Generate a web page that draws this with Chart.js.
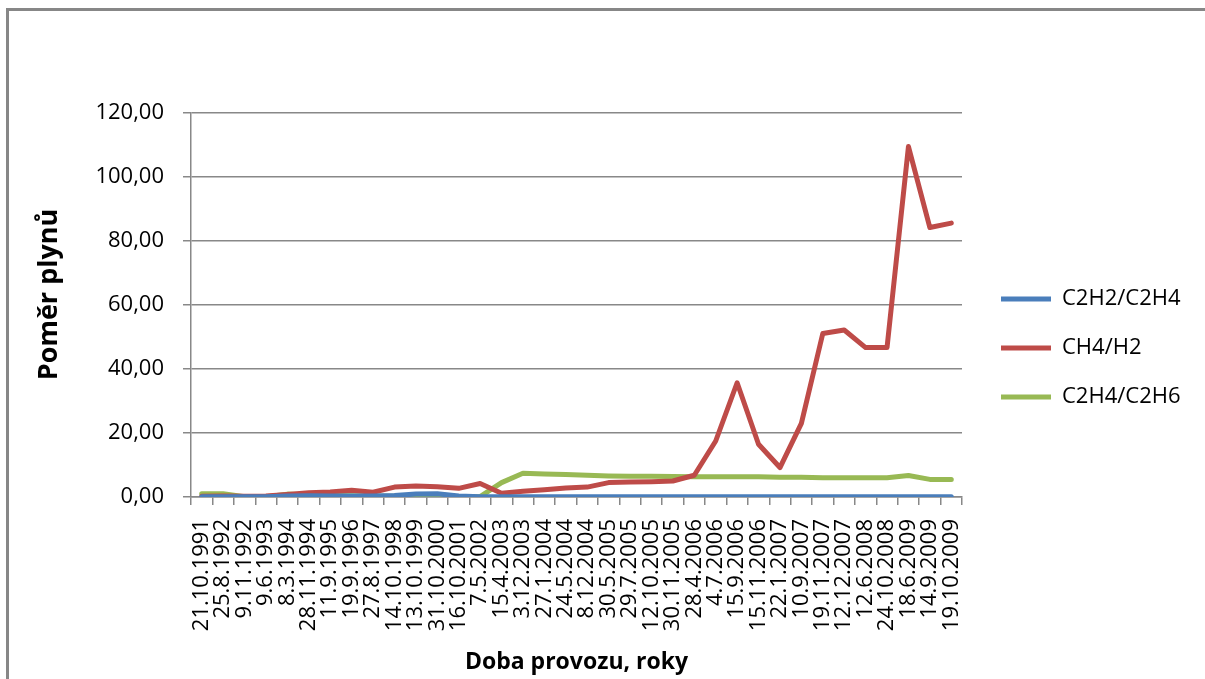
<!DOCTYPE html>
<html><head><meta charset="utf-8">
<script src="https://cdn.jsdelivr.net/npm/chart.js@4.4.0/dist/chart.umd.min.js"></script>
<style>
html,body{margin:0;padding:0;background:#fff;width:1205px;height:679px;overflow:hidden}
#frame{position:absolute;left:6px;top:8px;width:1300px;height:800px;border-left:3px solid #878787;border-top:3px solid #878787;box-sizing:border-box}
#wrap{position:absolute;left:0;top:0;width:1205px;height:679px}
</style></head><body>
<div id="frame"></div>
<div id="wrap"><canvas id="c" width="1205" height="679"></canvas></div>
<script>
const categories = ['21.10.1991','25.8.1992','9.11.1992','9.6.1993','8.3.1994','28.11.1994','11.9.1995','19.9.1996','27.8.1997','14.10.1998','13.10.1999','31.10.2000','16.10.2001','7.5.2002','15.4.2003','3.12.2003','27.1.2004','24.5.2004','8.12.2004','30.5.2005','29.7.2005','12.10.2005','30.11.2005','28.4.2006','4.7.2006','15.9.2006','15.11.2006','22.1.2007','10.9.2007','19.11.2007','12.12.2007','12.6.2008','24.10.2008','18.6.2009','14.9.2009','19.10.2009'];
const seriesNames = ['C2H2/C2H4','CH4/H2','C2H4/C2H6'];
const c2h2_c2h4 = [0.05,0.1,0.05,0.1,0.3,0.4,0.3,0.3,0.3,0.5,0.9,1.0,0.3,0.05,0.1,0.1,0.1,0.1,0.1,0.1,0.1,0.1,0.1,0.1,0.1,0.1,0.1,0.1,0.1,0.1,0.1,0.1,0.1,0.1,0.1,0.1];
const ch4_h2 = [0.2,0.3,0.2,0.3,0.8,1.3,1.6,2.1,1.5,3.1,3.4,3.2,2.7,4.2,1.2,1.8,2.3,2.8,3.1,4.5,4.7,4.8,5.0,6.8,17.5,35.7,16.5,9.2,23.0,51.1,52.2,46.7,46.7,109.5,84.2,85.6];
const c2h4_c2h6 = [1.0,1.0,0.1,0.1,0.9,0.6,0.5,0.4,0.3,0.2,0.3,0.3,0.1,0.1,4.5,7.4,7.2,7.0,6.8,6.6,6.5,6.5,6.4,6.3,6.3,6.3,6.3,6.2,6.2,6.0,6.0,6.0,6.0,6.7,5.5,5.5];
const yTickLabels = ['0,00','20,00','40,00','60,00','80,00','100,00','120,00'];
const colors = ['#4A7EBB','#BE4B48','#98B954'];

const FONT = "'Open Sans', sans-serif";
const GRID = '#888888';
const PLOT_LEFT = 191, PLOT_RIGHT = 962, PLOT_TOP = 113, PLOT_BOTTOM = 497;
const LEGEND_LEFT = 974, LEGEND_DY = -48;

const legendShift = {
  id: 'legendShift',
  afterLayout(chart) {
    const lg = chart.legend;
    const w = lg.right - lg.left;
    lg.left = LEGEND_LEFT; lg.right = LEGEND_LEFT + w;
    lg.top += LEGEND_DY; lg.bottom += LEGEND_DY;
  }
};

function ds(i, data) {
  return {
    label: seriesNames[i], data: data,
    borderColor: colors[i], backgroundColor: colors[i],
    borderWidth: 5, pointRadius: 0, pointHoverRadius: 0, tension: 0,
    borderCapStyle: 'round', borderJoinStyle: 'round', fill: false
  };
}

const chart = new Chart(document.getElementById('c'), {
  type: 'line',
  data: { labels: categories, datasets: [ds(0, c2h2_c2h4), ds(1, ch4_h2), ds(2, c2h4_c2h6)] },
  options: {
    responsive: false, animation: false, devicePixelRatio: 1,
    layout: { padding: { left: 0, right: 20, top: PLOT_TOP, bottom: 0 } },
    plugins: {
      tooltip: { enabled: false },
      legend: {
        position: 'right', align: 'center',
        labels: { usePointStyle: true, pointStyle: 'line', pointStyleWidth: 50, padding: 27,
                  color: '#000', font: { family: FONT, size: 22 } }
      }
    },
    scales: {
      x: {
        type: 'category', offset: true,
        grid: { offset: true, drawOnChartArea: false, drawTicks: true, tickLength: 8, color: GRID, lineWidth: 1.5 },
        border: { color: GRID, width: 1.5 },
        ticks: { autoSkip: false, maxRotation: 90, minRotation: 90, padding: 14, color: '#000', font: { family: FONT, size: 22 } },
        title: { display: true, text: 'Doba provozu, roky', color: '#000', font: { family: FONT, size: 23, weight: 'bold' }, padding: { top: 0, bottom: 3 } },
        afterFit(s) { s.height = 679 - PLOT_BOTTOM; }
      },
      y: {
        min: 0, max: 120,
        grid: { color: GRID, lineWidth: 1.5, tickLength: 8, drawTicks: true },
        border: { color: GRID, width: 1.5 },
        ticks: { stepSize: 20, padding: 19, color: '#000', font: { family: FONT, size: 22 },
                 callback: (v) => yTickLabels[Math.round(v / 20)] },
        title: { display: true, text: '   Poměr plynů', color: '#000', font: { family: FONT, size: 27, weight: 'bold' }, padding: { top: 33, bottom: 0 } },
        afterFit(s) { s.width = PLOT_LEFT; }
      }
    }
  },
  plugins: [legendShift]
});
const dr = chart.chartArea.right - PLOT_RIGHT;
if (Math.abs(dr) > 0.5) { chart.options.layout.padding.right += dr; chart.update(); }
</script>
</body></html>
